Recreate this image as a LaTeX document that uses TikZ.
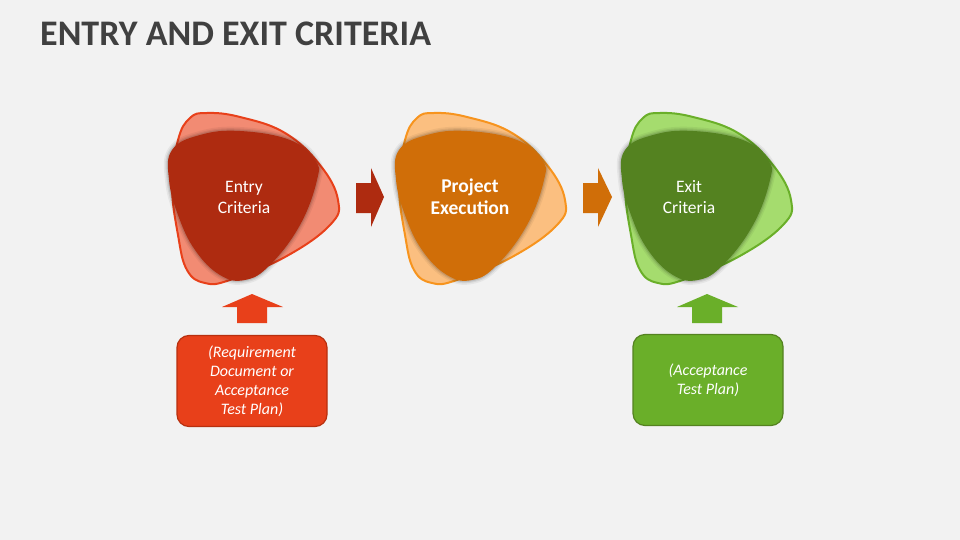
\documentclass[tikz,border=0pt]{standalone}
\usepackage{fontspec}
\setmainfont{Carlito}
\definecolor{bg}{HTML}{F2F2F2}
\definecolor{titlec}{HTML}{404040}
\definecolor{rback}{HTML}{F28B73}
\definecolor{rline}{HTML}{E8401A}
\definecolor{rfront}{HTML}{AE2B10}
\definecolor{rbox}{HTML}{E8401A}
\definecolor{rboxline}{HTML}{B8300F}
\definecolor{oback}{HTML}{FBBF80}
\definecolor{oline}{HTML}{F7941E}
\definecolor{ofront}{HTML}{D06E08}
\definecolor{gback}{HTML}{A5DC6E}
\definecolor{gline}{HTML}{6AAF29}
\definecolor{gfront}{HTML}{548220}
\definecolor{gbox}{HTML}{6AAF29}
\definecolor{gboxline}{HTML}{548220}
\tikzset{
  backblob/.style={line width=2pt},
  softshadow/.style={draw=black, draw opacity=#1},
  blobtext/.style={text=white, align=center, font=\fontsize{17.5}{21}\selectfont},
  infobox/.style={rounded corners=12pt, line width=1.2pt, minimum width=150pt, minimum height=91pt, text=white, align=center, font=\fontsize{16}{19}\selectfont\itshape, inner sep=0pt},
}
\newcommand\frontpts{plot[smooth cycle, tension=0.7] coordinates {(-72,-50) (-44,-65) (-4,-69) (46,-60) (71,-40) (73,-20) (56,25) (26,65) (1,80) (-24,75) (-49,50) (-66,15) (-75,-20)}}
\newcommand\backpts{plot[smooth cycle, tension=0.7] coordinates {(-37,-87) (-4,-83) (41,-67) (76,-35) (94,0) (86,25) (41,57) (-14,80) (-39,83) (-57,70) (-66,35) (-72,-15) (-66,-60) (-54,-82)}}
\newcommand\myblob[5]{%
  \begin{scope}[shift={(#1,#2)}]
    \fill[#3] \backpts;
    \draw[backblob, #4] \backpts;
    \draw[softshadow=0.05, line width=8pt] \frontpts;
    \draw[softshadow=0.07, line width=5pt] \frontpts;
    \draw[softshadow=0.10, line width=2.5pt] \frontpts;
    \fill[#5] \frontpts;
  \end{scope}}
\begin{document}
\begin{tikzpicture}[x=1pt, y=-1pt]
  \fill[bg] (0,0) rectangle (960,540);
  \useasboundingbox (0,0) rectangle (960,540);
  \node[anchor=base west, inner sep=0pt, text=titlec, font=\fontsize{36}{40}\selectfont\bfseries] (title) at (40,46) {ENTRY AND EXIT CRITERIA};

  \myblob{244}{200}{rback}{rline}{rfront}
  \myblob{471}{200}{oback}{oline}{ofront}
  \myblob{697}{200}{gback}{gline}{gfront}

  \node[blobtext] (entry) at (244,197) {Entry\\Criteria};
  \node[blobtext, font=\fontsize{19.5}{22}\selectfont\bfseries] (exec) at (470,197) {Project\\Execution};
  \node[blobtext] (exit) at (689,197) {Exit\\Criteria};

  % right arrows
  \fill[rfront] (356,183) -- (371,183) -- (371,168) -- (384,197) -- (371,227) -- (371,213) -- (356,213) -- cycle;
  \fill[ofront] (583,183) -- (598,183) -- (598,168) -- (612,197) -- (598,227) -- (598,213) -- (583,213) -- cycle;

  % up arrows
  \fill[rline] (237,323) -- (237,307) -- (222,307) -- (252,294) -- (283,307) -- (267,307) -- (267,323) -- cycle;
  \fill[gline] (692,323) -- (692,307) -- (677,307) -- (707,294) -- (738,307) -- (722,307) -- (722,323) -- cycle;

  % boxes
  \node[infobox, fill=rbox, draw=rboxline] (req) at (252,381) {(Requirement\\Document or\\Acceptance\\Test Plan)};
  \node[infobox, fill=gbox, draw=gboxline] (acc) at (708,380) {(Acceptance\\Test Plan)};
\end{tikzpicture}
\end{document}
